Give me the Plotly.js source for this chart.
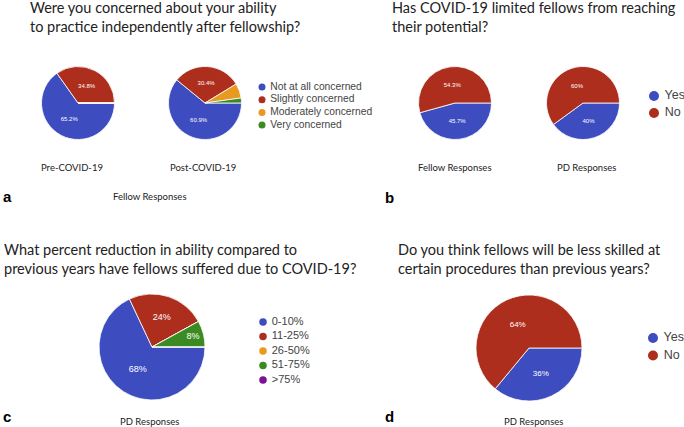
<!DOCTYPE html>
<html>
<head>
<meta charset="utf-8">
<script src="https://cdn.plot.ly/plotly-3.0.1.min.js"></script>
<style>
  html, body { margin: 0; padding: 0; background: #fff; }
  #chart { width: 684px; height: 427px; }
</style>
</head>
<body>
<div id="chart"></div>
<script>
// survey data (percent of responses)
var concernLabels = ['Not at all concerned', 'Slightly concerned', 'Moderately concerned', 'Very concerned'];
var concernPre = [65.2, 34.8, 0, 0];
var concernPost = [60.9, 30.4, 6.5, 2.2];

var yesNoLabels = ['Yes', 'No'];
var limitedFellow = [45.7, 54.3];
var limitedPD = [40, 60];

var reductionLabels = ['0-10%', '11-25%', '26-50%', '51-75%', '>75%'];
var reductionPD = [68, 24, 0, 8, 0];

var lessSkilledPD = [36, 64];

var W = 684, H = 427;
var BLUE = '#3d4cbf', RED = '#ad2e1d', ORANGE = '#e8991f', GREEN = '#3c8a22', PURPLE = '#7f0f99';
var concernColors = [BLUE, RED, ORANGE, GREEN];
var yesNoColors = [BLUE, RED];
var reductionColors = [BLUE, RED, ORANGE, GREEN, PURPLE];

var TITLE_FONT = 'Lato, "Open Sans", sans-serif';
var LEGEND_FONT = '"Liberation Sans", Arial, sans-serif';

// pixel helpers (y measured from top)
function xDom(cx, r) { return [(cx - r) / W, (cx + r) / W]; }
function yDom(cy, r) { return [1 - (cy + r) / H, 1 - (cy - r) / H]; }

function pctText(values) {
  return values.map(function (v) { return v >= 7.5 ? v + '%' : ''; });
}

function pie(labels, values, colors, cx, cy, r, fontSize) {
  return {
    type: 'pie',
    labels: labels,
    values: values,
    text: pctText(values),
    textinfo: 'text',
    textposition: 'inside',
    insidetextorientation: 'horizontal',
    textfont: {color: 'white', size: fontSize, family: LEGEND_FONT},
    marker: {colors: colors, line: {color: 'white', width: 0.8}},
    sort: false,
    direction: 'clockwise',
    rotation: 90,
    showlegend: false,
    hoverinfo: 'label+percent',
    domain: {x: xDom(cx, r), y: yDom(cy, r)}
  };
}

// legend drawn as a marker column on its own hidden axes
function legendTrace(labels, colors, n, size, fontSize) {
  return {
    type: 'scatter',
    mode: 'markers+text',
    x: labels.map(function () { return 0; }),
    y: labels.map(function (l, i) { return i; }),
    text: labels.map(function (l) { return ' ' + l; }),
    textposition: 'middle right',
    textfont: {size: fontSize, color: '#444', family: LEGEND_FONT},
    marker: {color: colors, size: size},
    cliponaxis: false,
    hoverinfo: 'skip',
    showlegend: false,
    xaxis: 'x' + n,
    yaxis: 'y' + n
  };
}

function legendAxes(layout, n, dotX, firstY, step, count) {
  var hidden = {visible: false, fixedrange: true};
  layout['xaxis' + n] = Object.assign({domain: [(dotX - 5) / W, (dotX + 5) / W], range: [-1, 1], anchor: 'y' + n}, hidden);
  layout['yaxis' + n] = Object.assign({
    domain: [1 - (firstY + step * (count - 0.5)) / H, 1 - (firstY - step / 2) / H],
    range: [count - 0.5, -0.5], anchor: 'x' + n
  }, hidden);
}

var traces = [
  pie(concernLabels, concernPre, concernColors, 78, 103, 36.5, 6),
  pie(concernLabels, concernPost, concernColors, 205, 103, 36.5, 6),
  pie(yesNoLabels, limitedFellow, yesNoColors, 455, 103, 36.5, 6),
  pie(yesNoLabels, limitedPD, yesNoColors, 583, 103, 36.5, 6),
  pie(reductionLabels, reductionPD, reductionColors, 152, 347, 53, 9),
  pie(yesNoLabels, lessSkilledPD, yesNoColors, 529, 348, 53, 8),
  legendTrace(concernLabels, concernColors, 2, 7, 10.3),
  legendTrace(yesNoLabels, yesNoColors, 3, 10, 12.5),
  legendTrace(reductionLabels, reductionColors, 4, 7.5, 11),
  legendTrace(yesNoLabels, yesNoColors, 5, 10, 12.5)
];

function note(text, x, y, size, opts) {
  return Object.assign({
    text: text, xref: 'paper', yref: 'paper', x: x / W, y: 1 - y / H,
    xanchor: 'left', yanchor: 'middle', align: 'left', showarrow: false,
    font: {family: TITLE_FONT, size: size, color: '#222'}
  }, opts || {});
}

var BOLD = {family: 'Arial, sans-serif', size: 15, color: '#000'};
var annotations = [
  note('Were you concerned about your ability<br>to practice independently after fellowship?', 28, 16.5, 14.5),
  note('Has COVID-19 limited fellows from reaching<br>their potential?', 390, 16.5, 14.5),
  note('What percent reduction in ability compared to<br>previous years have fellows suffered due to COVID-19?', 2, 258.5, 14.5),
  note('Do you think fellows will be less skilled at<br>certain procedures than previous years?', 396, 259, 14.5),
  note('Pre-COVID-19', 72, 167, 9.5, {xanchor: 'center'}),
  note('Post-COVID-19', 203, 167, 9.5, {xanchor: 'center'}),
  note('Fellow Responses', 455, 167, 9.5, {xanchor: 'center'}),
  note('PD Responses', 586, 167, 9.5, {xanchor: 'center'}),
  note('Fellow Responses', 150, 196, 9.5, {xanchor: 'center'}),
  note('PD Responses', 149, 421, 9.5, {xanchor: 'center'}),
  note('PD Responses', 533, 421, 9.5, {xanchor: 'center'}),
  note('<b>a</b>', 1, 196, 15, {font: BOLD}),
  note('<b>b</b>', 383, 197, 15, {font: BOLD}),
  note('<b>c</b>', 1, 416, 15, {font: BOLD}),
  note('<b>d</b>', 383, 416, 15, {font: BOLD})
];

var layout = {
  width: W,
  height: H,
  margin: {l: 0, r: 0, t: 0, b: 0},
  paper_bgcolor: 'white',
  plot_bgcolor: 'white',
  showlegend: false,
  annotations: annotations
};
legendAxes(layout, 2, 262, 87, 12.7, concernLabels.length);
legendAxes(layout, 3, 654, 96, 17, yesNoLabels.length);
legendAxes(layout, 4, 263, 322, 14.5, reductionLabels.length);
legendAxes(layout, 5, 653, 338, 17.5, yesNoLabels.length);

Plotly.newPlot('chart', traces, layout, {displayModeBar: false, staticPlot: true});
</script>
</body>
</html>
